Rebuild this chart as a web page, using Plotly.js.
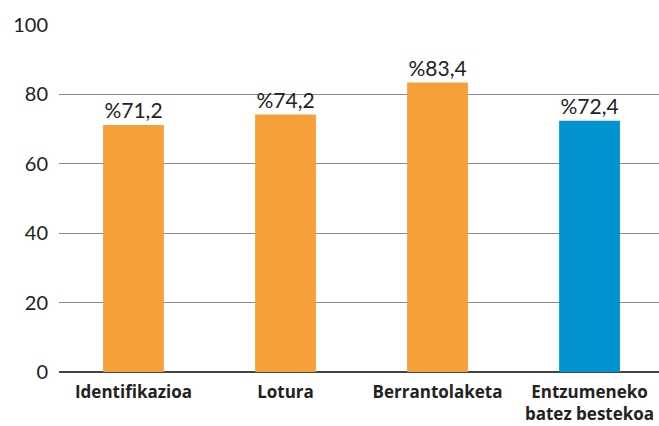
<!DOCTYPE html>
<html>
<head>
<meta charset="utf-8">
<script src="https://cdn.plot.ly/plotly-3.0.1.min.js"></script>
<style>html,body{margin:0;padding:0;background:#fff;}#chart{width:659px;height:426px;}</style>
</head>
<body>
<div id="chart"></div>
<script>
const categories = ["Identifikazioa", "Lotura", "Berrantolaketa", "Entzumeneko<br>batez bestekoa"];
const values = [71.2, 74.2, 83.4, 72.4];
const valueLabels = ["%71,2", "%74,2", "%83,4", "%72,4"];
const barColors = ["#F6A03A", "#F6A03A", "#F6A03A", "#0093D0"];
const yTicks = [0, 20, 40, 60, 80, 100];

const trace = {
  type: "bar",
  x: categories.map((c, i) => i),
  y: values,
  text: valueLabels,
  textposition: "outside",
  cliponaxis: false,
  textfont: {family: "Lato, 'Open Sans', sans-serif", size: 21, color: "#222"},
  marker: {color: barColors},
  width: 0.4,
  hoverinfo: "none"
};

const layout = {
  width: 659, height: 426,
  margin: {l: 59, r: 0, t: 25, b: 54},
  paper_bgcolor: "#fff", plot_bgcolor: "#fff",
  showlegend: false,
  xaxis: {
    range: [-0.49, 3.457],
    tickmode: "array",
    tickvals: categories.map((c, i) => i),
    ticktext: categories,
    tickfont: {family: "'Open Sans', 'DejaVu Sans', sans-serif", size: 17, color: "#222", weight: "bold"},
    showgrid: false,
    zeroline: false,
    showline: false,
    ticks: "",
    ticklen: 0,
    ticklabelstandoff: 8,
    automargin: false
  },
  yaxis: {
    range: [0, 100],
    tickvals: yTicks,
    ticktext: yTicks.map(String),
    tickfont: {family: "Lato, 'Open Sans', sans-serif", size: 20, color: "#222"},
    showgrid: true,
    gridcolor: "#8a8a8a",
    gridwidth: 1,
    zeroline: true,
    zerolinecolor: "#444",
    zerolinewidth: 2,
    ticks: "",
    ticklabelstandoff: 10,
    automargin: false
  },
  shapes: [{
    type: "line", xref: "paper", yref: "y",
    x0: 0, x1: 0, y0: 0, y1: -1.6,
    line: {color: "#444", width: 2}
  }]
};

Plotly.newPlot("chart", [trace], layout, {staticPlot: true, displayModeBar: false});
</script>
</body>
</html>
